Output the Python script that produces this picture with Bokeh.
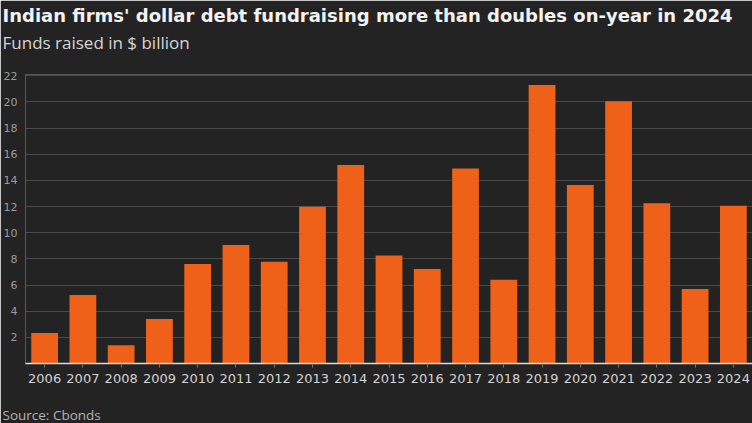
from bokeh.plotting import figure
from bokeh.models import FixedTicker, Range1d, Title
from bokeh.embed import file_html
from bokeh.resources import INLINE

years = ["2006", "2007", "2008", "2009", "2010", "2011", "2012", "2013", "2014", "2015",
         "2016", "2017", "2018", "2019", "2020", "2021", "2022", "2023", "2024"]
funds = [2.33, 5.23, 1.40, 3.40, 7.61, 9.06, 7.79, 11.98, 15.18, 8.25,
         7.23, 14.92, 6.40, 21.29, 13.65, 20.05, 12.26, 5.69, 12.06]
y_ticks = [2, 4, 6, 8, 10, 12, 14, 16, 18, 20, 22]

title_text = "Indian firms' dollar debt fundraising more than doubles on-year in 2024"
subtitle_text = "Funds raised in $ billion"
source_text = "Source: Cbonds"

BG = "#232323"
ORANGE = "#ef6019"

p = figure(x_range=years, y_range=Range1d(0, 22.1), width=752, height=423,
           output_backend="svg", toolbar_location=None, title=None,
           min_border_left=24, min_border_right=0, min_border_top=74, min_border_bottom=59)
p.background_fill_color = BG
p.border_fill_color = BG
p.outline_line_color = None

p.vbar(x=years, top=funds, width=0.7, color=ORANGE, line_color=None)

# subtitle: trailing empty line gives room below the text without pushing the title up
p.add_layout(Title(text=subtitle_text + "\n", text_font="Open Sans", text_font_size="17px",
                   text_font_style="normal", text_color="#d6d6d6", align="left",
                   offset=-23, standoff=0, text_line_height=0.9), "above")
p.add_layout(Title(text=title_text, text_font="DejaVu Sans", text_font_size="18px",
                   text_font_style="bold", text_color="#f2f2f2", align="left",
                   offset=-23, standoff=5, text_line_height=1.0), "above")
# source: leading empty line pushes the text down to the bottom edge
p.add_layout(Title(text="\n" + source_text, text_font="Open Sans", text_font_size="13.5px",
                   text_font_style="normal", text_color="#b4b4b4", align="left",
                   offset=-23, standoff=0, text_line_height=1.0), "below")

# y axis
p.yaxis.ticker = FixedTicker(ticks=y_ticks)
p.yaxis.axis_line_color = None
p.yaxis.major_tick_line_color = None
p.yaxis.major_tick_out = 0
p.yaxis.major_tick_in = 0
p.yaxis.minor_tick_line_color = None
p.yaxis.minor_tick_out = 0
p.yaxis.major_label_text_color = "#9c9c9c"
p.yaxis.major_label_text_font = "DejaVu Sans"
p.yaxis.major_label_text_font_size = "11px"
p.yaxis.major_label_standoff = 8

# x axis
p.xaxis.axis_line_color = "#dcdcdc"
p.xaxis.axis_line_width = 1.5
p.xaxis.major_tick_line_color = "#777777"
p.xaxis.major_tick_in = 0
p.xaxis.major_tick_out = 4
p.xaxis.major_label_standoff = 6
p.xaxis.major_label_text_color = "#d2d2d2"
p.xaxis.major_label_text_font = "DejaVu Sans"
p.xaxis.major_label_text_font_size = "13px"

p.xgrid.grid_line_color = None
p.ygrid.ticker = FixedTicker(ticks=y_ticks)
p.ygrid.grid_line_color = "#4a4a4a"
p.ygrid.grid_line_width = 1
p.x_range.range_padding = 0

open("out.html", "w").write(file_html(p, INLINE))
